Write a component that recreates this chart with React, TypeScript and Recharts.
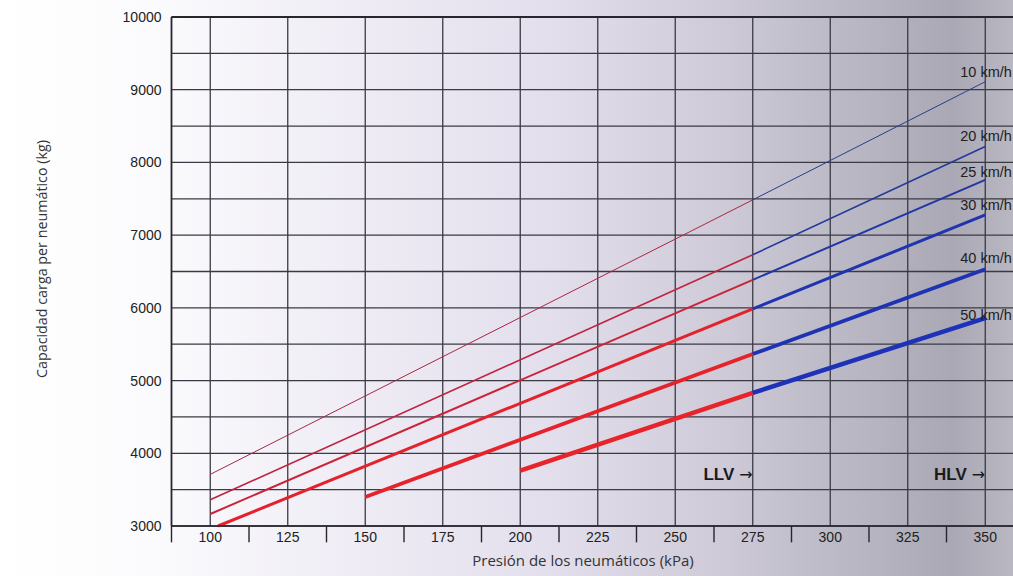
import { LineChart, Line, XAxis, YAxis, CartesianGrid, ReferenceLine, ReferenceDot } from 'recharts'

// speed curves: red part up to 275 kPa (LLV), blue part 275–350 kPa (HLV)
const speeds = ['10 km/h', '20 km/h', '25 km/h', '30 km/h', '40 km/h', '50 km/h']
const startPressure = [100, 100, 100, 102.5, 150, 200]
const startLoad = [3710, 3360, 3165, 3000, 3400, 3760]
const llvPressure = 275
const llvLoad = [7485, 6730, 6385, 5985, 5365, 4830]
const hlvPressure = 350
const hlvLoad = [9110, 8220, 7760, 7280, 6530, 5860]

const xTicks = [100, 125, 150, 175, 200, 225, 250, 275, 300, 325, 350]
const xSeparators = [87.5, 112.5, 137.5, 162.5, 187.5, 212.5, 237.5, 262.5, 287.5, 312.5, 337.5]
const yTicks = [3000, 3500, 4000, 4500, 5000, 5500, 6000, 6500, 7000, 7500, 8000, 8500, 9000, 9500, 10000]

const zoneLabels = ['LLV', 'HLV']
const zonePressure = [275, 350]
const zoneLoad = 3635

const widths = [1, 1.6, 2, 3, 3.8, 4.5]
const reds = ['#a8283f', '#c0223f', '#cc2238', '#e3222c', '#e6232b', '#e8242b']
const blues = ['#2a3c8c', '#25399a', '#2237a4', '#1f35b0', '#1e33b4', '#1d32b8']
const labelDy = [-5, -5, -3, -5, -6, 2]

const SANS = '"Liberation Sans", Arial, sans-serif'
const GRID = '#3a3a44'

const redData = speeds.map((_, i) => [
  { p: startPressure[i], v: startLoad[i] },
  { p: llvPressure, v: llvLoad[i] },
])
const blueData = speeds.map((_, i) => [
  { p: llvPressure, v: llvLoad[i] },
  { p: hlvPressure, v: hlvLoad[i] },
])

const endLabel = (i: number) => (props: any) => {
  if (props.index !== 1) return null
  return (
    <text x={props.x - 25} y={props.y + labelDy[i]} fontSize={14.5} fontFamily={SANS} fill="#1e1e24">
      {speeds[i]}
    </text>
  )
}

export default function App() {
  return (
    <div
      style={{
        position: 'absolute',
        left: 0,
        top: 0,
        width: 1013,
        height: 576,
        overflow: 'hidden',
        background:
          'linear-gradient(90deg, #ffffff 0%, #fbfbfd 15%, #efecf5 35%, #e2deec 55%, #cdc9d7 72%, #b5b3bf 87%, #a9a8b4 94%, #b8b7c2 100%)',
      }}
    >
      <LineChart width={1030} height={576} margin={{ top: 17, right: 6, bottom: 20, left: 111.5 }}>
        <CartesianGrid stroke={GRID} strokeWidth={1.3} />
        <XAxis
          type="number"
          dataKey="p"
          domain={[87.5, 362.5]}
          ticks={xTicks}
          interval={0}
          height={30}
          tickLine={false}
          tickSize={0}
          tickMargin={6}
          axisLine={{ stroke: '#26262c', strokeWidth: 1.6 }}
          tick={{ fontSize: 14, fontFamily: SANS, fill: '#222' }}
        />
        <YAxis
          type="number"
          dataKey="v"
          domain={[3000, 10000]}
          ticks={yTicks}
          interval={0}
          width={60}
          tickLine={false}
          tickSize={0}
          tickMargin={10}
          tickFormatter={(v: number) => (v % 1000 === 0 ? String(v) : '')}
          axisLine={{ stroke: '#26262c', strokeWidth: 1.6 }}
          tick={{ fontSize: 14, fontFamily: SANS, fill: '#222' }}
        />
        <ReferenceLine y={10000} stroke="#26262c" strokeWidth={1.8} />
        {xSeparators.map((s) => (
          <ReferenceLine
            key={s}
            segment={[{ x: s, y: 3000 }, { x: s, y: 2775 }]}
            ifOverflow="visible"
            stroke="#26262c"
            strokeWidth={1.4}
          />
        ))}
        {speeds.map((s, i) => (
          <Line
            key={'r' + s}
            data={redData[i]}
            dataKey="v"
            type="linear"
            stroke={reds[i]}
            strokeWidth={widths[i]}
            dot={false}
            activeDot={false}
            isAnimationActive={false}
          />
        ))}
        {speeds.map((s, i) => (
          <Line
            key={'b' + s}
            data={blueData[i]}
            dataKey="v"
            type="linear"
            stroke={blues[i]}
            strokeWidth={widths[i]}
            dot={false}
            activeDot={false}
            label={endLabel(i)}
            isAnimationActive={false}
          />
        ))}
        {zoneLabels.map((z, i) => (
          <ReferenceDot
            key={z}
            x={zonePressure[i]}
            y={zoneLoad}
            r={0}
            ifOverflow="visible"
            shape={(p: any) => (
              <text x={p.cx} y={p.cy} textAnchor="end" fill="#1a1a1e">
                <tspan fontSize={17} fontWeight="bold" fontFamily={SANS}>{z}</tspan>
                <tspan fontSize={16} dx={5} fontFamily='"DejaVu Sans", sans-serif'>→</tspan>
              </text>
            )}
          />
        ))}
      </LineChart>
      <div
        style={{
          position: 'absolute',
          left: 41,
          top: 259,
          transform: 'translate(-50%, -50%) rotate(-90deg)',
          whiteSpace: 'nowrap',
          fontFamily: '"Open Sans", sans-serif',
          fontSize: 14.3,
          color: '#333',
        }}
      >
        Capacidad carga per neumático (kg)
      </div>
      <div
        style={{
          position: 'absolute',
          left: 583,
          top: 560,
          transform: 'translate(-50%, -50%)',
          whiteSpace: 'nowrap',
          fontFamily: '"Open Sans", sans-serif',
          fontSize: 15,
          color: '#333',
        }}
      >
        Presión de los neumáticos (kPa)
      </div>
    </div>
  )
}
